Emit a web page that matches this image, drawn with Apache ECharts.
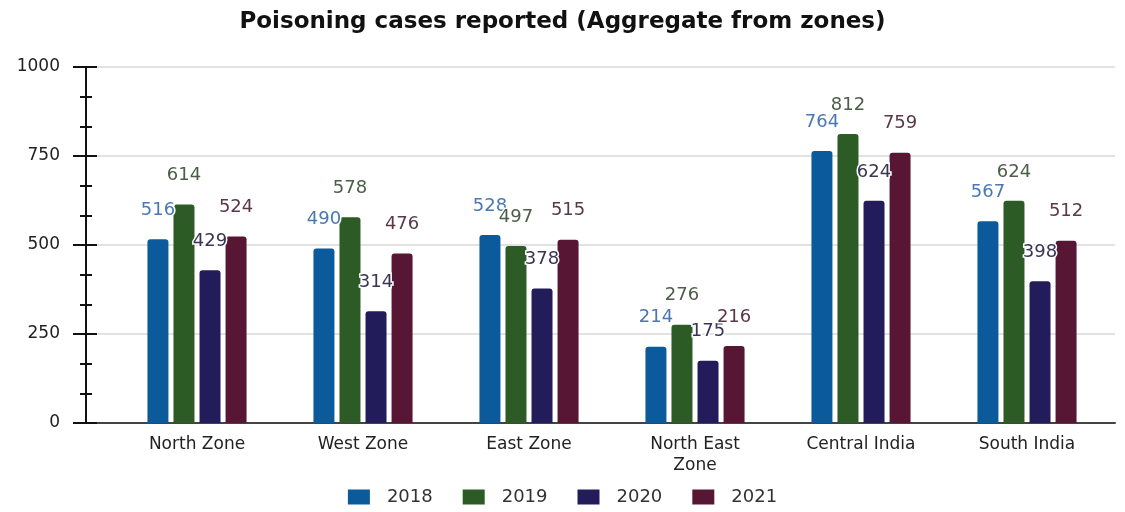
<!DOCTYPE html>
<html>
<head>
<meta charset="utf-8">
<script src="https://cdn.jsdelivr.net/npm/echarts@6/dist/echarts.min.js"></script>
<style>
  html, body { margin: 0; padding: 0; background: #fff; }
  #chart { width: 1125px; height: 512px; }
</style>
</head>
<body>
<div id="chart"></div>
<script>
var zones = ['North Zone', 'West Zone', 'East Zone', 'North East\nZone', 'Central India', 'South India'];
var years = ['2018', '2019', '2020', '2021'];
var cases2018 = [516, 490, 528, 214, 764, 567];
var cases2019 = [614, 578, 497, 276, 812, 624];
var cases2020 = [429, 314, 378, 175, 624, 398];
var cases2021 = [524, 476, 515, 216, 759, 512];
var yTicks = [0, 250, 500, 750, 1000];

var barColors = ['#0b5b9c', '#2c5b25', '#221c5b', '#561634'];
var labelColors = ['#4a78b0', '#4b5e48', '#3a3552', '#5a3848'];
var font = 'DejaVu Sans';

var chart = echarts.init(document.getElementById('chart'));

function makeSeries(name, data, i) {
  return {
    name: name,
    type: 'bar',
    xAxisIndex: 0,
    yAxisIndex: 0,
    data: data,
    barWidth: 21,
    barGap: '24%',
    itemStyle: { color: barColors[i], borderRadius: [3, 3, 0, 0] },
    label: {
      show: true,
      position: 'top',
      distance: 20,
      color: labelColors[i],
      fontFamily: font,
      fontSize: 18,
      textBorderColor: '#fff',
      textBorderWidth: 3
    }
  };
}

var option = {
  animation: false,
  backgroundColor: '#fff',
  title: {
    text: 'Poisoning cases reported (Aggregate from zones)',
    left: 'center',
    top: 6,
    textStyle: { fontFamily: font, fontSize: 23, fontWeight: 'bold', color: '#111' }
  },
  legend: {
    data: years,
    bottom: 1,
    left: 'center',
    itemWidth: 22,
    itemHeight: 15,
    itemGap: 30,
    icon: 'rect',
    textStyle: { fontFamily: font, fontSize: 18, color: '#333', padding: [0, 0, 0, 12] }
  },
  grid: [
    { left: 114, right: 15, top: 67, bottom: 89 },
    { left: 86, right: 10, top: 67, bottom: 89 }
  ],
  xAxis: [
    {
      type: 'category',
      gridIndex: 0,
      data: zones,
      axisLine: { show: false },
      axisTick: { show: false },
      axisLabel: { fontFamily: font, fontSize: 17, color: '#222', margin: 11, lineHeight: 21 }
    },
    {
      type: 'category',
      gridIndex: 1,
      data: [''],
      axisLine: { show: true, lineStyle: { color: '#444', width: 2 } },
      axisTick: { show: false },
      axisLabel: { show: false }
    }
  ],
  yAxis: [
    {
      type: 'value',
      gridIndex: 0,
      min: 0,
      max: 1000,
      show: false
    },
    {
      type: 'value',
      gridIndex: 1,
      min: yTicks[0],
      max: yTicks[yTicks.length - 1],
      interval: 250,
      position: 'left',
      axisLine: { show: true, lineStyle: { color: '#111', width: 2 } },
      axisTick: { show: true, length: 13, lineStyle: { color: '#111', width: 2 } },
      minorTick: { show: true, splitNumber: 3, length: 6, lineStyle: { color: '#111', width: 2 } },
      splitLine: { show: true, lineStyle: { color: '#d9d9d9', width: 1.5 } },
      axisLabel: {
        fontFamily: font, fontSize: 17, color: '#222', margin: 26,
        formatter: function (v) { return String(v); }
      }
    },
    {
      type: 'value',
      gridIndex: 1,
      min: yTicks[0],
      max: yTicks[yTicks.length - 1],
      interval: 250,
      position: 'left',
      axisLine: { show: false },
      axisTick: { show: true, inside: true, length: 11, lineStyle: { color: '#111', width: 2 } },
      minorTick: { show: true, splitNumber: 3, length: 6, lineStyle: { color: '#111', width: 2 } },
      splitLine: { show: false },
      axisLabel: { show: false }
    }
  ],
  series: [
    makeSeries(years[0], cases2018, 0),
    makeSeries(years[1], cases2019, 1),
    makeSeries(years[2], cases2020, 2),
    makeSeries(years[3], cases2021, 3)
  ]
};

chart.setOption(option);
</script>
</body>
</html>
